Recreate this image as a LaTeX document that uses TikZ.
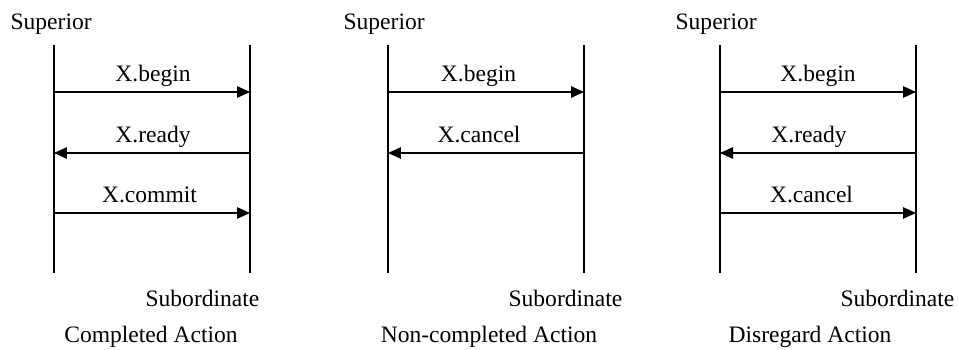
\documentclass[tikz,border=0pt]{standalone}
\usepackage{fontspec}
\setmainfont{Liberation Serif}
\usetikzlibrary{arrows.meta}

\begin{document}
\begin{tikzpicture}[x = 0.02cm, y = -0.02cm, line width = 0.7pt,
  every node/.style = {font = \fontsize{13.4}{16}\selectfont, inner sep = 0pt},
  msg/.style = {-{Triangle[length = 0.26cm, width = 0.23cm]}},
  lbl/.style = {anchor = base, yshift = 0.21cm}]
\pgfmathsetmacro{\ytop}{45}  % lifeline top
\pgfmathsetmacro{\ybot}{273} % lifeline bottom
\useasboundingbox (0,0) rectangle (958,350);
% Completed Action
\coordinate (s1t) at (54,\ytop);  \coordinate (s1b) at (54,\ybot);
\coordinate (o1t) at (250,\ytop); \coordinate (o1b) at (250,\ybot);
\coordinate (s1a) at (54,92);  \coordinate (o1a) at (250,92);
\coordinate (s1c) at (54,153); \coordinate (o1c) at (250,153);
\coordinate (s1e) at (54,213); \coordinate (o1e) at (250,213);
\draw (s1t) -- (s1b);
\draw (o1t) -- (o1b);
\node[anchor = base west] (sup1) at (10,30) {Superior};
\node[anchor = base east] (sub1) at (260,307) {Subordinate};
\node[anchor = base] (cap1) at (151,343) {Completed Action};
\draw[msg] (s1a) -- node[lbl, xshift = 0.02cm]{X.begin} (o1a);
\draw[msg] (o1c) -- node[lbl, xshift = 0.02cm]{X.ready} (s1c);
\draw[msg] (s1e) -- node[lbl, xshift = -0.05cm]{X.commit} (o1e);
% Non-completed Action
\coordinate (s2t) at (388,\ytop); \coordinate (s2b) at (388,\ybot);
\coordinate (o2t) at (584,\ytop); \coordinate (o2b) at (584,\ybot);
\coordinate (s2a) at (388,92);  \coordinate (o2a) at (584,92);
\coordinate (s2c) at (388,153); \coordinate (o2c) at (584,153);
\draw (s2t) -- (s2b);
\draw (o2t) -- (o2b);
\node[anchor = base west] (sup2) at (343,30) {Superior};
\node[anchor = base east] (sub2) at (623,307) {Subordinate};
\node[anchor = base] (cap2) at (489,343) {Non-completed Action};
\draw[msg] (s2a) -- node[lbl, xshift = -0.15cm]{X.begin} (o2a);
\draw[msg] (o2c) -- node[lbl, xshift = -0.14cm]{X.cancel} (s2c);
% Disregard Action
\coordinate (s3t) at (720,\ytop); \coordinate (s3b) at (720,\ybot);
\coordinate (o3t) at (916,\ytop); \coordinate (o3b) at (916,\ybot);
\coordinate (s3a) at (720,92);  \coordinate (o3a) at (916,92);
\coordinate (s3c) at (720,153); \coordinate (o3c) at (916,153);
\coordinate (s3e) at (720,213); \coordinate (o3e) at (916,213);
\draw (s3t) -- (s3b);
\draw (o3t) -- (o3b);
\node[anchor = base west] (sup3) at (675,30) {Superior};
\node[anchor = base east] (sub3) at (955,307) {Subordinate};
\node[anchor = base] (cap3) at (810,343) {Disregard Action};
\draw[msg] (s3a) -- node[lbl]{X.begin} (o3a);
\draw[msg] (o3c) -- node[lbl, xshift = -0.18cm]{X.ready} (s3c);
\draw[msg] (s3e) -- node[lbl, xshift = -0.13cm]{X.cancel} (o3e);
\end{tikzpicture}
\end{document}
